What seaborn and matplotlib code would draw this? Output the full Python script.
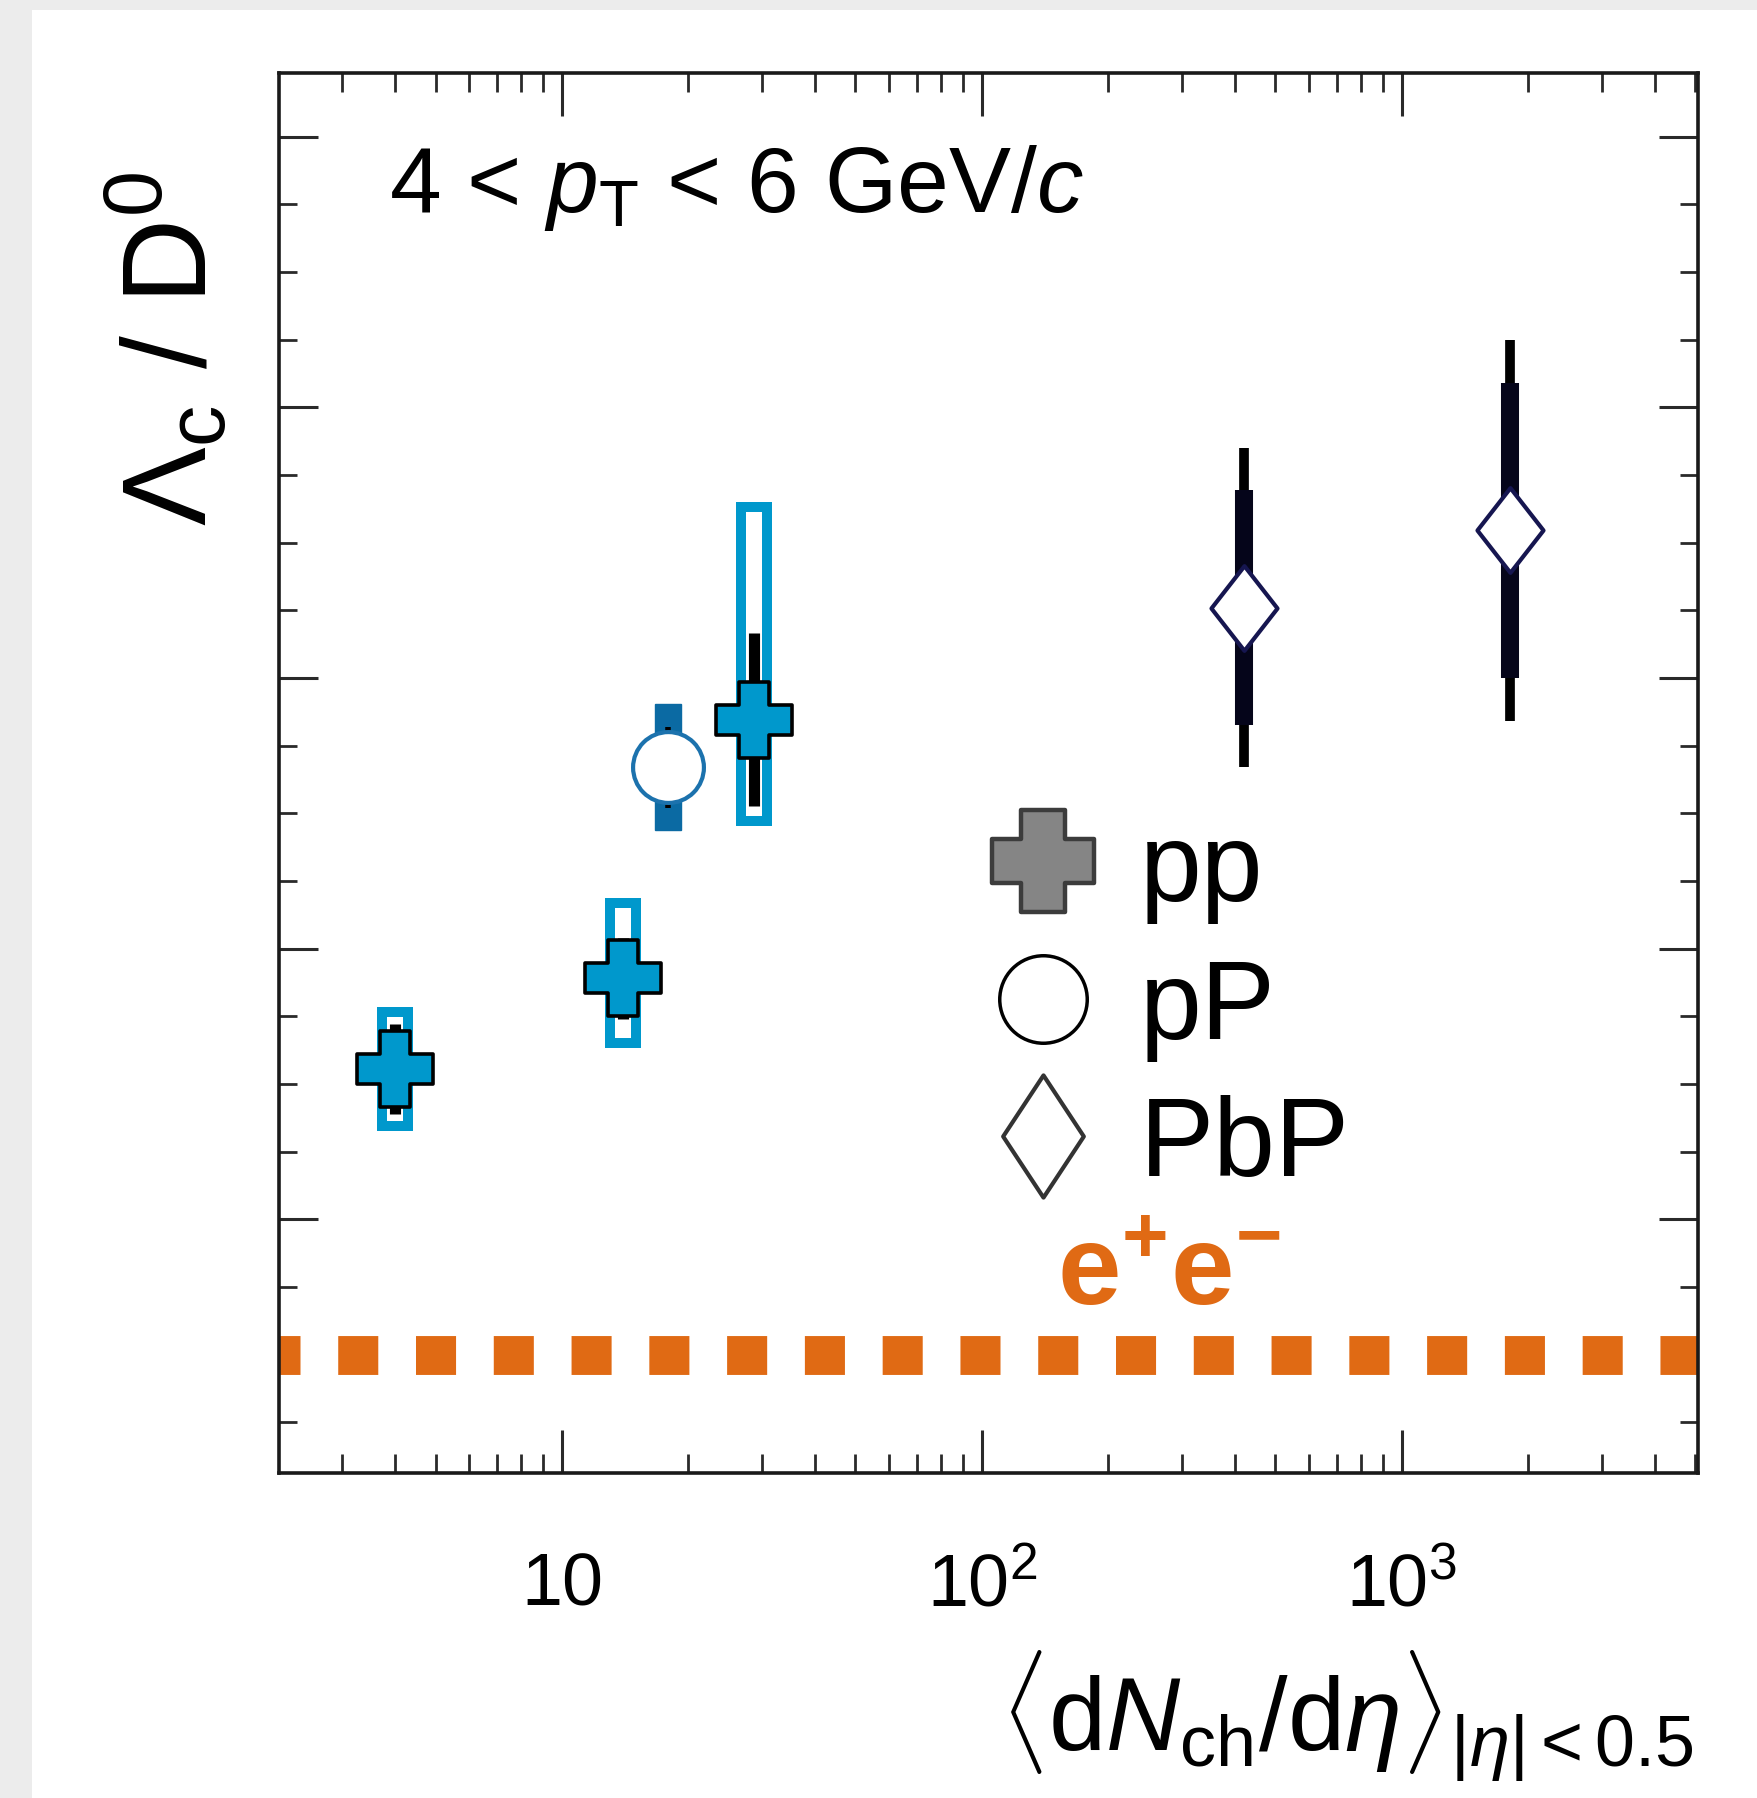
import numpy as np
import matplotlib
matplotlib.use("Agg")
import matplotlib.pyplot as plt
import seaborn as sns
import pandas as pd
from matplotlib.path import Path
from matplotlib.patches import Rectangle
from matplotlib.lines import Line2D
from matplotlib.ticker import LogLocator, NullFormatter, MultipleLocator

# ---------------- data ----------------
pp_mult = [4.0, 13.95, 28.7]
pp_ratio = [0.311, 0.378, 0.569]
pp_stat = [0.033, 0.030, 0.064]
pp_syst_lo = [0.042, 0.048, 0.075]
pp_syst_hi = [0.042, 0.056, 0.157]

pPb_mult = [17.85]
pPb_ratio = [0.534]
pPb_stat = [0.030]
pPb_syst_lo = [0.046]
pPb_syst_hi = [0.047]

PbPb_mult = [421.0, 1805.0]
PbPb_ratio = [0.652, 0.709]
PbPb_stat = [0.118, 0.141]
PbPb_syst = [0.087, 0.109]

ee_ratio = 0.10

legend_labels = ["pp", "pP", "PbP"]
ee_label = r"$\mathbf{e^{+}e^{-}}$"
title_text = r"4 < $p_{\mathrm{T}}$ < 6 GeV/$c$"
x_label = r"$\langle\mathrm{d}N_{\mathrm{ch}}/\mathrm{d}\eta\rangle_{|\eta|<0.5}$"
y_label = r"$\Lambda_{\mathrm{c}}$ / D$^{0}$"
x_tick_values = [10, 100, 1000]
x_tick_labels = ["10", r"$10^{2}$", r"$10^{3}$"]

# ---------------- style ----------------
sns.set_theme(style="ticks")
plt.rcParams["font.family"] = ["Liberation Sans", "DejaVu Sans"]
plt.rcParams["mathtext.fontset"] = "custom"
plt.rcParams["mathtext.rm"] = "Liberation Sans"
plt.rcParams["mathtext.it"] = "Liberation Sans:italic"
plt.rcParams["mathtext.bf"] = "Liberation Sans:bold"
plt.rcParams["mathtext.sf"] = "Liberation Sans"
plt.rcParams["text.color"] = "black"
plt.rcParams["axes.labelcolor"] = "black"
plt.rcParams["xtick.labelcolor"] = "black"

BLUE = "#0098cc"
PPB_BLUE = "#0b6aa3"
PPB_EDGE = "#1c72ad"
NAVY = "#161650"
ORANGE = "#e06a14"

def cross_path(a=0.2):
    v = [(-a, 0.5), (a, 0.5), (a, a), (0.5, a), (0.5, -a), (a, -a), (a, -0.5),
         (-a, -0.5), (-a, -a), (-0.5, -a), (-0.5, a), (-a, a), (-a, 0.5)]
    return Path(v, closed=True)

def diamond_path(w=0.42):
    v = [(0, 0.5), (w, 0), (0, -0.5), (-w, 0), (0, 0.5)]
    return Path(v, closed=True)

W, H = 1758, 1799
fig = plt.figure(figsize=(W / 100, H / 100), dpi=100, facecolor="#ececec")
fig.add_artist(Rectangle((32 / W, 0), 1, 1 - 11 / H, transform=fig.transFigure,
                         facecolor="white", edgecolor="none", zorder=-5))
ax = fig.add_axes([279 / W, 1 - 1474 / H, (1698 - 279) / W, (1474 - 74) / H])
ax.set_facecolor("white")

ax.set_xscale("log")
ax.set_xlim(2.12, 5070)
ax.set_ylim(0.0125, 1.047)

# ---------------- e+e- reference line ----------------
ax.axhline(ee_ratio, color=ORANGE, lw=28, ls=(0.49, (1.03, 0.97)), zorder=1)

# ---------------- pp ----------------
box_f = 10 ** (13.0 / 420)
for x, y, lo, hi in zip(pp_mult, pp_ratio, pp_syst_lo, pp_syst_hi):
    ax.add_patch(Rectangle((x / box_f, y - lo), x * box_f - x / box_f, lo + hi,
                           facecolor="none", edgecolor=BLUE, lw=7.2, zorder=2))
ax.errorbar(pp_mult, pp_ratio, yerr=pp_stat, fmt="none", ecolor="black",
            elinewidth=8, capsize=0, zorder=3)
pp_df = pd.DataFrame({"mult": pp_mult, "ratio": pp_ratio})
sns.scatterplot(data=pp_df, x="mult", y="ratio", marker=cross_path(0.2), s=55 ** 2,
                color=BLUE, edgecolor="black", linewidth=2.6, zorder=5, ax=ax,
                legend=False)

# ---------------- p-Pb ----------------
box_p = 10 ** (13.0 / 420)
for x, y, lo, hi in zip(pPb_mult, pPb_ratio, pPb_syst_lo, pPb_syst_hi):
    ax.add_patch(Rectangle((x / box_p, y - lo), x * box_p - x / box_p, lo + hi,
                           facecolor=PPB_BLUE, edgecolor=PPB_BLUE, lw=1, zorder=2))
ax.errorbar(pPb_mult, pPb_ratio, yerr=pPb_stat, fmt="none", ecolor="black",
            elinewidth=4, capsize=0, zorder=3)
pPb_df = pd.DataFrame({"mult": pPb_mult, "ratio": pPb_ratio})
sns.scatterplot(data=pPb_df, x="mult", y="ratio", marker="o", s=51 ** 2,
                color="white", edgecolor=PPB_EDGE, linewidth=3, zorder=5, ax=ax,
                legend=False)

# ---------------- Pb-Pb ----------------
ax.errorbar(PbPb_mult, PbPb_ratio, yerr=PbPb_stat, fmt="none", ecolor="black",
            elinewidth=7, capsize=0, zorder=3)
ax.errorbar(PbPb_mult, PbPb_ratio, yerr=PbPb_syst, fmt="none", ecolor="#05051a",
            elinewidth=13, capsize=0, zorder=3)
PbPb_df = pd.DataFrame({"mult": PbPb_mult, "ratio": PbPb_ratio})
sns.scatterplot(data=PbPb_df, x="mult", y="ratio", marker=diamond_path(0.39),
                s=61 ** 2, color="white", edgecolor=NAVY, linewidth=3, zorder=5,
                ax=ax, legend=False)

# ---------------- axes ----------------
ax.set_xticks(x_tick_values, labels=x_tick_labels)
for t in ax.get_xticklabels():
    t.set_verticalalignment("baseline")
    t.set_color("black")
ax.xaxis.set_minor_locator(LogLocator(base=10, subs=np.arange(2, 10), numticks=30))
ax.xaxis.set_minor_formatter(NullFormatter())
ax.yaxis.set_major_locator(MultipleLocator(0.2))
ax.yaxis.set_minor_locator(MultipleLocator(0.05))
ax.tick_params(which="both", direction="in", top=True, right=True,
               color="#2a2a2a", labelcolor="black")
ax.tick_params(axis="x", which="major", length=31, width=2.2, labelsize=53, pad=95)
ax.tick_params(axis="x", which="minor", length=14, width=2.0)
ax.tick_params(axis="y", which="major", length=28, width=2.2)
ax.tick_params(axis="y", which="minor", length=13, width=2.0)
ax.tick_params(axis="y", labelleft=False)
for sp in ax.spines.values():
    sp.set_linewidth(2.6)
    sp.set_color("#1a1a1a")

ax.set_xlabel(x_label, fontsize=74, ha="right", color="black")
ax.xaxis.set_label_coords(0.9965, -0.125)
ax.set_ylabel(y_label, fontsize=85, ha="right", color="black")
ax.yaxis.set_label_coords(-0.033, 0.930)

ax.text(0.0775, 0.9014, title_text, transform=ax.transAxes, fontsize=67,
        va="baseline", ha="left", color="black")

# ---------------- legend ----------------
handles = [
    Line2D([], [], ls="none", marker=cross_path(0.21), ms=74, mfc="#858585",
           mec="#3c3c3c", mew=3.2),
    Line2D([], [], ls="none", marker="o", ms=63, mfc="white", mec="black", mew=2.5),
    Line2D([], [], ls="none", marker=diamond_path(0.33), ms=88, mfc="white",
           mec="#333333", mew=3),
]
leg = ax.legend(handles, legend_labels, loc="upper left", bbox_to_anchor=(0.4996, 0.467),
                frameon=False, fontsize=80, handlelength=1.0, handletextpad=0.37,
                labelspacing=0.3, borderpad=0, borderaxespad=0)
for t in leg.get_texts():
    t.set_color("black")

ax.text(0.548, 0.1207, ee_label, transform=ax.transAxes, fontsize=82,
        color=ORANGE, va="baseline", ha="left")

fig.savefig("out.png", dpi=100, facecolor=fig.get_facecolor())
